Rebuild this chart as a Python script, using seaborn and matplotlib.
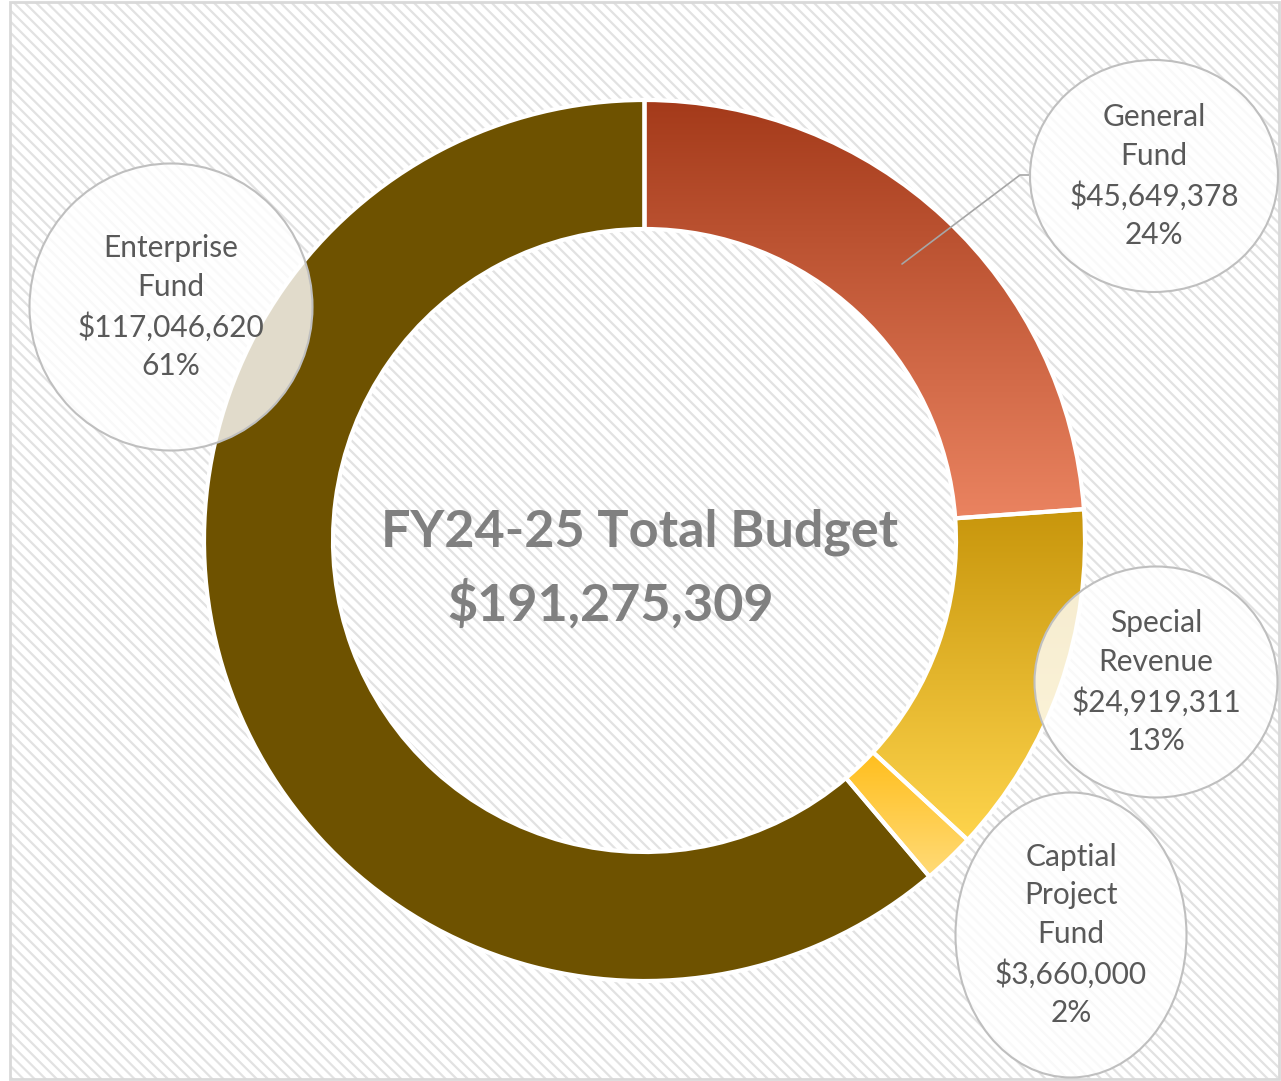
"""
FY24-25 total budget donut chart with bubble labels.
"""

import numpy as np
import matplotlib
matplotlib.use("Agg")
import matplotlib.pyplot as plt
from matplotlib.patches import Ellipse, Rectangle
from matplotlib.colors import LinearSegmentedColormap
import seaborn as sns

# data
fund_names = ["General\nFund", "Special\nRevenue", "Captial\nProject\nFund", "Enterprise\nFund"]
fund_values = [45649378, 24919311, 3660000, 117046620]
title_text = "FY24-25 Total Budget"

# colours (top -> bottom of each gradient)
grad_colors = [("#A43A1A", "#EA8360"), ("#C8960C", "#FED44C"), ("#FFBE1C", "#FFDB78"), None]
solid_colors = ["#C85A3A", "#E4B42C", "#FFC840", "#6E5200"]

W, H = 1281, 1081


def Y(y):
    # picture rows -> data y (y up)
    return H - y


sns.set_theme(style="white")
plt.rcParams["font.family"] = ["Lato", "DejaVu Sans"]
plt.rcParams["hatch.linewidth"] = 1.6
plt.rcParams["hatch.color"] = "#E2E2E2"

fig = plt.figure(figsize=(W / 100, H / 100), dpi=100)
ax = fig.add_axes([0, 0, 1, 1])

# hatched background with a thin frame
ax.add_patch(Rectangle((10, Y(1079)), 1269, 1077, facecolor="white",
                       edgecolor="#E2E2E2", hatch="\\\\\\", lw=0, zorder=0))
ax.add_patch(Rectangle((10, Y(1079)), 1269, 1077, facecolor="none",
                       edgecolor="#D9D9D9", lw=2, zorder=0.5))

cx, cy, R, ring = 644.5, Y(540.5), 440.5, 129
wedges, _ = ax.pie(fund_values, radius=R, center=(cx, cy), startangle=90,
                   counterclock=False, colors=solid_colors,
                   wedgeprops=dict(width=ring, edgecolor="none"), frame=True)

# vertical gradients clipped to each wedge
for w, gc in zip(wedges, grad_colors):
    if gc is None:
        continue
    path_box = w.get_path().get_extents(w.get_transform() - ax.transData)
    cmap = LinearSegmentedColormap.from_list("g", list(gc))
    grad = np.linspace(0, 1, 256).reshape(-1, 1)
    im = ax.imshow(grad, cmap=cmap, aspect="auto", origin="upper",
                   extent=(path_box.x0, path_box.x1, path_box.y0, path_box.y1),
                   zorder=1.5)
    im.set_clip_path(w)

# white separators on top
ax.pie(fund_values, radius=R, center=(cx, cy), startangle=90, counterclock=False,
       colors=["none"] * len(fund_values),
       wedgeprops=dict(width=ring, edgecolor="white", linewidth=3, zorder=2),
       frame=True)

# centre text
ax.text(640, Y(532), title_text, ha="center", va="center", fontsize=37.5,
        fontweight="bold", color="#808080", zorder=3)
ax.text(611, Y(604), f"${sum(fund_values):,}", ha="center", va="center",
        fontsize=37.5, fontweight="bold", color="#808080", zorder=3)

# bubble labels
bubbles = [(1154, 176, 248, 232), (1156, 682, 243, 231),
           (1071, 935, 231, 285), (171, 307, 283, 287)]
total = sum(fund_values)
for name, val, (bx, by, bw, bh) in zip(fund_names, fund_values, bubbles):
    ax.add_patch(Ellipse((bx, Y(by)), bw, bh, facecolor=(1, 1, 1, 0.8),
                         edgecolor="#BFBFBF", lw=1.5, zorder=4))
    label = f"{name}\n${val:,}\n{round(val / total * 100)}%"
    ax.text(bx, Y(by), label, ha="center", va="center", fontsize=21.5,
            color="#595959", linespacing=1.45, zorder=5)

# leader line for General Fund
ax.plot([902, 1020, 1030], [Y(264), Y(175), Y(175)], color="#A6A6A6", lw=1.2, zorder=3)

ax.set_xlim(0, W)
ax.set_ylim(0, H)
ax.set_aspect("equal")
ax.axis("off")
fig.savefig("out.png", dpi=100, facecolor="white")
